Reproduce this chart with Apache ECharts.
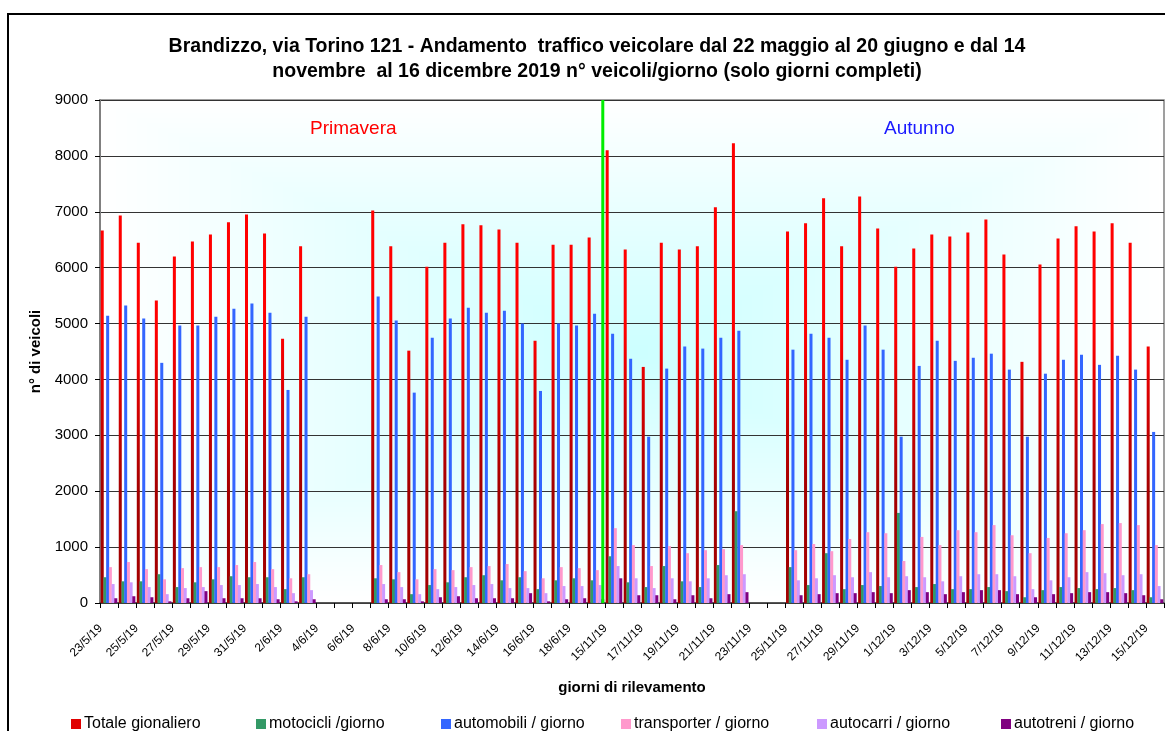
<!DOCTYPE html>
<html>
<head>
<meta charset="utf-8">
<script src="https://cdn.jsdelivr.net/npm/echarts/dist/echarts.min.js"></script>
<style>
  html, body { margin: 0; padding: 0; background: #fff; }
  #chart { width: 1165px; height: 731px; }
</style>
</head>
<body>
<div id="chart"></div>
<script>
// Survey days (complete days only): spring 23/5–19/6, autumn 15/11–15/12
const days = [
  '23/5/19','24/5/19','25/5/19','26/5/19','27/5/19','28/5/19','29/5/19','30/5/19','31/5/19',
  '1/6/19','2/6/19','3/6/19','4/6/19','5/6/19','6/6/19','7/6/19','8/6/19','9/6/19','10/6/19',
  '11/6/19','12/6/19','13/6/19','14/6/19','15/6/19','16/6/19','17/6/19','18/6/19','19/6/19',
  '15/11/19','16/11/19','17/11/19','18/11/19','19/11/19','20/11/19','21/11/19','22/11/19',
  '23/11/19','24/11/19','25/11/19','26/11/19','27/11/19','28/11/19','29/11/19','30/11/19',
  '1/12/19','2/12/19','3/12/19','4/12/19','5/12/19','6/12/19','7/12/19','8/12/19','9/12/19',
  '10/12/19','11/12/19','12/12/19','13/12/19','14/12/19','15/12/19'
];

const seriesNames = [
  'Totale gionaliero', 'motocicli /giorno', 'automobili / giorno',
  'transporter / giorno', 'autocarri / giorno', 'autotreni / giorno'
];

const totale = [6667,6933,6448,5412,6200,6467,6594,6812,6952,6612,4727,6382,null,null,null,
  7024,6382,4515,6018,6448,6776,6758,6685,6448,4691,6412,6412,6539,
  8103,6327,4224,6448,6327,6382,7079,8224,null,null,
  6648,6794,7242,6382,7273,6703,6018,6345,6594,6558,6630,6861,6236,4315,6055,6521,6739,6648,6794,6448,4588];

const motocicli = [461,388,388,515,285,370,424,479,461,461,248,461,null,null,null,
  442,424,158,321,370,461,497,406,461,248,406,442,406,
  836,370,285,661,388,285,679,1642,null,null,
  642,321,891,248,321,303,1612,285,339,248,248,285,212,103,230,285,267,248,267,230,103];

const automobili = [5139,5321,5091,4297,4964,4964,5121,5267,5358,5194,3812,5121,null,null,null,
  5485,5055,3764,4745,5091,5285,5194,5230,5000,3794,5000,4964,5176,
  4818,4370,2976,4194,4588,4552,4745,4873,null,null,
  4533,4818,4745,4352,4964,4533,2976,4242,4691,4333,4388,4461,4176,2976,4103,4352,4442,4261,4424,4176,3061];

const transporter = [642,733,606,424,624,642,642,679,733,606,442,515,null,null,null,
  679,552,424,606,588,642,661,697,570,442,642,624,588,
  1339,1036,661,1018,891,945,964,1036,null,null,
  945,1055,927,1145,1267,1248,752,1182,1036,1303,1267,1394,1212,891,1164,1248,1303,1412,1430,1394,1036];

const autocarri = [339,370,285,158,267,285,321,321,339,285,176,230,null,null,null,
  339,285,158,248,285,321,339,267,267,176,303,303,321,
  661,442,267,442,388,442,497,515,null,null,
  406,442,497,461,552,461,479,461,388,479,515,515,479,248,406,461,552,533,497,515,303];

const autotreni = [85,121,103,30,85,212,85,85,85,67,30,67,null,null,null,
  67,67,30,103,121,85,85,85,176,30,67,85,67,
  442,139,139,67,139,85,158,194,null,null,
  139,158,176,176,194,176,230,194,158,194,230,230,158,103,158,176,194,194,176,139,67];

// Seam between the spring and the autumn campaign, in category units
const seasonBreak = [27.88];

const yTicks = { min: 0, max: 9000, interval: 1000 };

// ---- layout & style ----
const FONT = '"Liberation Sans", Arial, sans-serif';
const GRID = { left: 100, top: 100, width: 1064, height: 503 };
const colors = ['#e00000', '#339966', '#3366ff', '#ff99cc', '#cc99ff', '#800080'];
const legendLeft = [66, 251, 436, 616, 812, 996];

// Plot-area fill: light turquoise in the middle fading to white towards the edges
function plotBackground(w, h) {
  const c = document.createElement('canvas');
  c.width = w; c.height = h;
  const ctx = c.getContext('2d');
  const img = ctx.createImageData(w, h);
  const hw = w / 2, hh = h / 2;
  const from = [204, 255, 255], to = [255, 255, 255];
  for (let y = 0; y < h; y++) {
    for (let x = 0; x < w; x++) {
      const t = Math.min(1, Math.max(Math.abs(x - hw) / hw, Math.abs(y - hh) / hh));
      const i = (y * w + x) * 4;
      img.data[i]     = from[0] + (to[0] - from[0]) * t;
      img.data[i + 1] = from[1] + (to[1] - from[1]) * t;
      img.data[i + 2] = from[2] + (to[2] - from[2]) * t;
      img.data[i + 3] = 255;
    }
  }
  ctx.putImageData(img, 0, 0);
  return c;
}

const chart = echarts.init(document.getElementById('chart'), null, { renderer: 'canvas' });

const redFill = new echarts.graphic.LinearGradient(0, 330, 0, 490, [
  { offset: 0, color: '#ff0000' },
  { offset: 1, color: '#a30000' }
], true);

const values = [totale, motocicli, automobili, transporter, autocarri, autotreni];

const barSeries = values.map((data, i) => ({
  name: seriesNames[i],
  type: 'bar',
  data: data,
  barGap: '-10%',
  barCategoryGap: '8%',
  itemStyle: { color: i === 0 ? redFill : colors[i] },
  animation: false
}));

const option = {
  animation: false,
  textStyle: { fontFamily: FONT },
  title: {
    text: 'Brandizzo, via Torino 121 - Andamento  traffico veicolare dal 22 maggio al 20 giugno e dal 14\nnovembre  al 16 dicembre 2019 n° veicoli/giorno (solo giorni completi)',
    left: 592,
    top: 29,
    textAlign: 'center',
    textStyle: { fontFamily: FONT, fontSize: 19.5, fontWeight: 'bold', color: '#000', lineHeight: 25 }
  },
  legend: seriesNames.map((n, i) => ({
    data: [{ name: n, itemStyle: { color: colors[i] } }],
    left: legendLeft[i],
    top: 711,
    itemWidth: 10,
    itemHeight: 10,
    icon: 'rect',
    selectedMode: false,
    textStyle: { fontFamily: FONT, fontSize: 16, color: '#000', padding: [0, 0, 0, -2] }
  })),
  grid: {
    left: GRID.left, top: GRID.top, width: GRID.width, height: GRID.height,
    show: true, backgroundColor: 'transparent', borderColor: '#808080', borderWidth: 1.5
  },
  graphic: [
    {
      type: 'image', z: -10, silent: true,
      style: { image: plotBackground(GRID.width, GRID.height), x: GRID.left, y: GRID.top, width: GRID.width, height: GRID.height }
    },
    {
      type: 'rect', z: -20, silent: true,
      shape: { x: 8, y: 14, width: 1400, height: 900 },
      style: { fill: 'none', stroke: '#000', lineWidth: 2 }
    },
    {
      type: 'text', silent: true, left: 310, top: 119,
      style: { text: 'Primavera', fill: '#ff0000', font: '19px ' + FONT }
    },
    {
      type: 'text', silent: true, left: 884, top: 119,
      style: { text: 'Autunno', fill: '#1a1aff', font: '19px ' + FONT }
    }
  ],
  xAxis: [
    {
      type: 'category',
      data: days,
      name: 'giorni di rilevamento',
      nameLocation: 'middle',
      nameGap: 77,
      nameTextStyle: { fontFamily: FONT, fontSize: 15, fontWeight: 'bold', color: '#000' },
      axisLine: { lineStyle: { color: '#404040', width: 1.5 } },
      axisTick: { show: true, interval: 0, length: 5, lineStyle: { color: '#000' } },
      axisLabel: { interval: 1, rotate: 45, fontSize: 12, color: '#000', margin: 15, padding: [0, 12, 0, 0], fontFamily: FONT },
      splitLine: { show: false }
    },
    {
      type: 'value', min: 0, max: days.length, show: false
    }
  ],
  yAxis: {
    type: 'value',
    min: yTicks.min, max: yTicks.max, interval: yTicks.interval,
    name: 'n° di veicoli',
    nameLocation: 'middle',
    nameGap: 57,
    nameRotate: 90,
    nameTextStyle: { fontFamily: FONT, fontSize: 15, fontWeight: 'bold', color: '#000' },
    axisLine: { show: true, lineStyle: { color: '#808080', width: 2 } },
    axisTick: { show: true, length: 5, lineStyle: { color: '#000' } },
    axisLabel: { fontSize: 15, color: '#000', margin: 12, fontFamily: FONT, formatter: v => String(v) },
    splitLine: { show: true, lineStyle: { color: '#333', width: 1.2 } }
  },
  series: barSeries.concat([
    {
      name: 'separatore',
      type: 'line',
      xAxisIndex: 1,
      data: seasonBreak.flatMap(v => [[v, yTicks.min], [v, yTicks.max]]),
      showSymbol: false,
      symbol: 'none',
      silent: true,
      z: 5,
      lineStyle: { color: '#00ee00', width: 3 },
      animation: false
    }
  ])
};

chart.setOption(option);
</script>
</body>
</html>
